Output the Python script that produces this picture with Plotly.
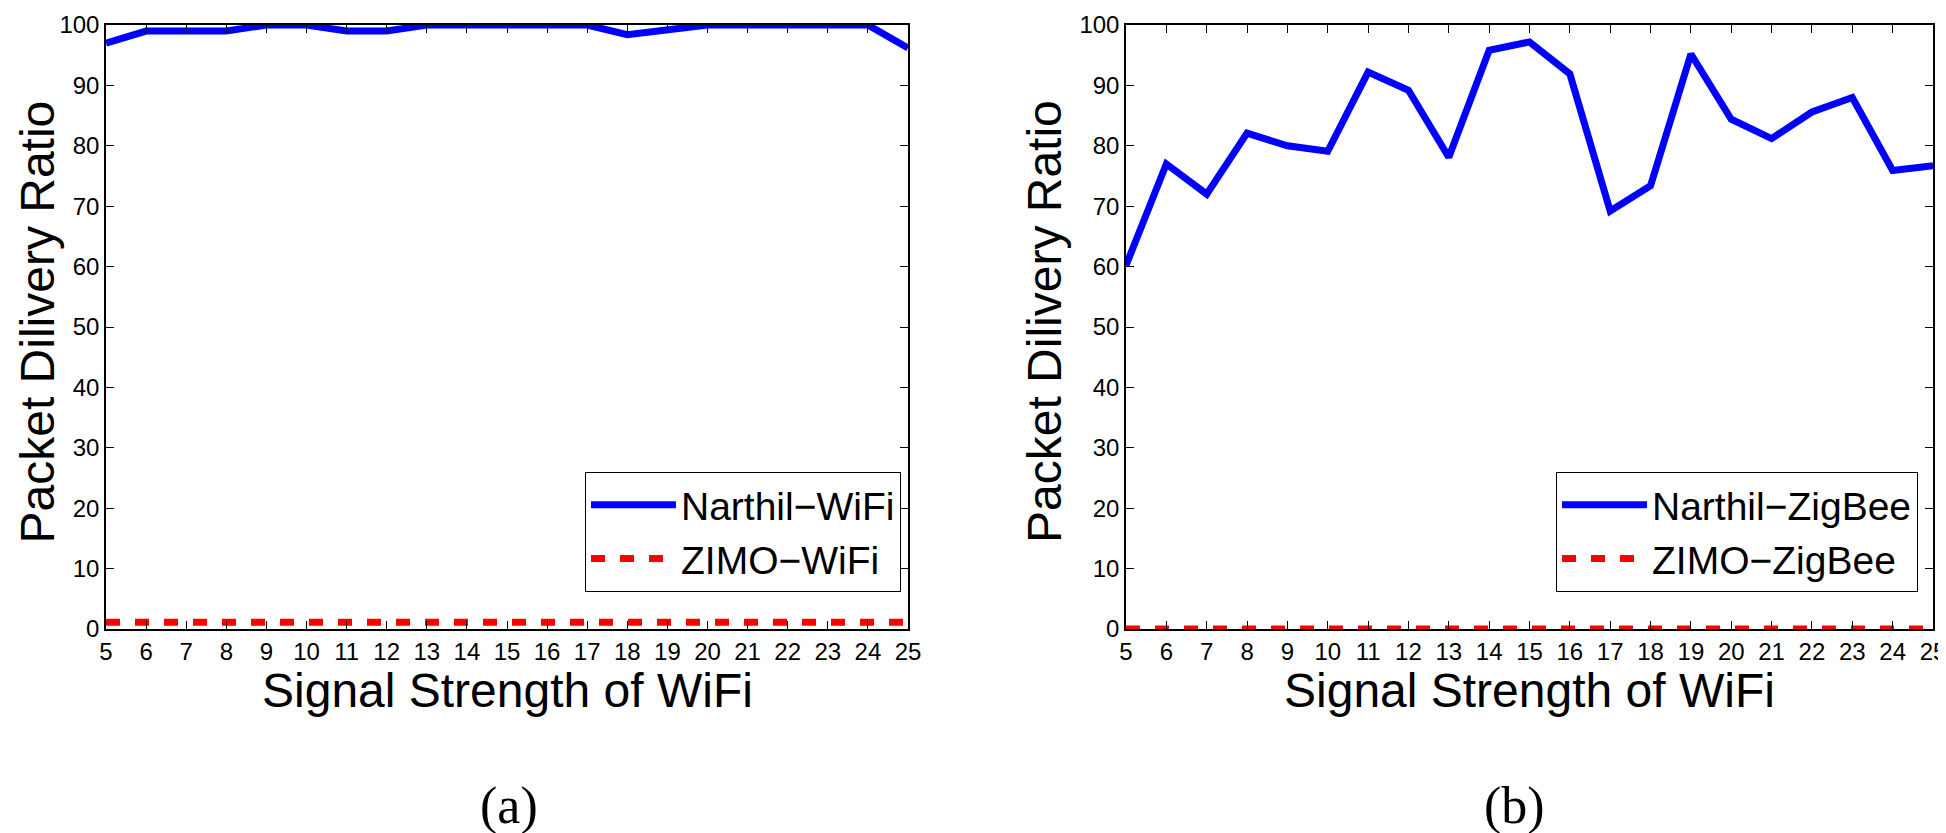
import plotly.graph_objects as go

# ---- data ----
signal_strength = list(range(5, 26))
narthil_wifi = [97, 99, 99, 99, 100, 100, 99, 99, 100, 100, 100, 100, 100, 98.4, 99.3, 100, 100, 100, 100, 100, 96.2]
zimo_wifi = [1.1] * 21
narthil_zigbee = [60.2, 77.0, 72.0, 82.1, 80.0, 79.1, 92.2, 89.2, 78.1, 95.8, 97.2, 91.9, 69.2, 73.4, 95.2, 84.4, 81.2, 85.6, 88.0, 75.9, 76.7]
zimo_zigbee = [0] * 21

x_ticks = list(range(5, 26))
y_ticks = list(range(0, 101, 10))
x_title = "Signal Strength of WiFi"
y_title = "Packet Dilivery Ratio"
panel_labels = ["(a)", "(b)"]
legend_names = [["Narthil\u2212WiFi", "ZIMO\u2212WiFi"], ["Narthil\u2212ZigBee", "ZIMO\u2212ZigBee"]]

# the page body keeps an 8px margin, so the figure is drawn 8px smaller
W, H = 1938, 825
SANS = "Liberation Sans, Arial, Helvetica, sans-serif"
SERIF = "Liberation Serif, Times New Roman, serif"
LW = 7
DASH = "14px,15px"

fig = go.Figure()

fig.add_trace(go.Scatter(x=signal_strength, y=narthil_wifi, mode="lines", name=legend_names[0][0],
                         line=dict(color="#0000ff", width=LW), xaxis="x", yaxis="y", legend="legend"))
fig.add_trace(go.Scatter(x=signal_strength, y=zimo_wifi, mode="lines", name=legend_names[0][1],
                         line=dict(color="#ff0000", width=LW, dash=DASH), xaxis="x", yaxis="y", legend="legend"))
fig.add_trace(go.Scatter(x=signal_strength, y=narthil_zigbee, mode="lines", name=legend_names[1][0],
                         line=dict(color="#0000ff", width=LW), xaxis="x2", yaxis="y2", legend="legend2"))
fig.add_trace(go.Scatter(x=signal_strength, y=zimo_zigbee, mode="lines", name=legend_names[1][1],
                         line=dict(color="#ff0000", width=LW, dash=DASH), xaxis="x2", yaxis="y2", legend="legend2"))

# pixel geometry of the two plot areas (figure coordinates)
left_px = (98, 900)
right_px = (1118, 1925)
top_px, bot_px = 17, 621
ydom = [1 - bot_px / H, 1 - top_px / H]

def xaxis_common(dom, anchor):
    return dict(domain=dom, anchor=anchor, range=[5, 25], tickmode="array", tickvals=x_ticks,
                ticks="inside", ticklen=8, tickwidth=1, tickcolor="black", mirror="ticks",
                showline=True, linecolor="black", linewidth=1.5, showgrid=False, zeroline=False,
                ticklabeloverflow="allow", automargin=False,
                tickfont=dict(family=SANS, size=24, color="black"))

def yaxis_common(anchor):
    return dict(domain=ydom, anchor=anchor, range=[0, 100], tickmode="array", tickvals=y_ticks,
                ticks="inside", ticklen=8, tickwidth=1, tickcolor="black", mirror="ticks",
                showline=True, linecolor="black", linewidth=1.5, showgrid=False, zeroline=False,
                ticklabeloverflow="allow", automargin=False,
                tickfont=dict(family=SANS, size=24, color="black"))

legend_common = dict(bordercolor="black", borderwidth=1, bgcolor="white",
                     font=dict(family=SANS, size=39, color="black"),
                     xanchor="right", yanchor="top", itemwidth=85, tracegroupgap=0)

annotations = []
for (x0, x1), lab, ytx, yanc, labx in [(left_px, panel_labels[0], 0, "left", 501),
                                        (right_px, panel_labels[1], 1036, "center", 1506)]:
    cx = (x0 + x1) / 2
    annotations.append(dict(text=x_title, x=cx / W, y=1 - 682 / H, xref="paper", yref="paper",
                            xanchor="center", yanchor="middle", showarrow=False,
                            font=dict(family=SANS, size=48, color="black")))
    annotations.append(dict(text=y_title, x=ytx / W, y=1 - 314 / H, xref="paper", yref="paper",
                            xanchor=yanc, yanchor="middle", showarrow=False, textangle=-90,
                            font=dict(family=SANS, size=48, color="black")))
    annotations.append(dict(text=lab, x=labx / W, y=1 - 798 / H,
                            xref="paper", yref="paper", xanchor="center", yanchor="middle", showarrow=False,
                            font=dict(family=SERIF, size=52, color="black")))

fig.update_layout(
    width=W, height=H, margin=dict(l=0, r=0, t=0, b=0, autoexpand=False),
    paper_bgcolor="white", plot_bgcolor="white",
    xaxis=xaxis_common([left_px[0] / W, left_px[1] / W], "y"),
    yaxis=yaxis_common("x"),
    xaxis2=xaxis_common([right_px[0] / W, right_px[1] / W], "y2"),
    yaxis2=yaxis_common("x2"),
    legend=dict(x=893 / W, y=1 - 464 / H, **legend_common),
    legend2=dict(x=1910 / W, y=1 - 464 / H, **legend_common),
    annotations=annotations,
    showlegend=True,
)

fig.write_html("out.html")
